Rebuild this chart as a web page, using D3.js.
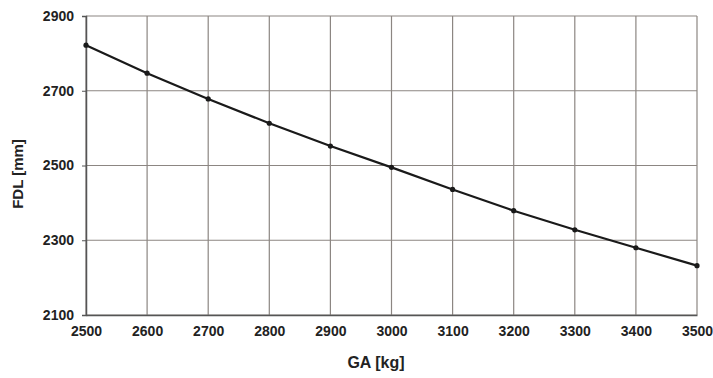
<!DOCTYPE html>
<html>
<head>
<meta charset="utf-8">
<script src="https://cdn.jsdelivr.net/npm/d3@7"></script>
<style>
  body { margin: 0; background: #fff; }
  text { font-family: "Liberation Sans", Arial, sans-serif; font-weight: bold; fill: #222; }
</style>
</head>
<body>
<script>
var gaValues = [2500, 2600, 2700, 2800, 2900, 3000, 3100, 3200, 3300, 3400, 3500];
var fdlValues = [2822, 2747, 2678, 2613, 2552, 2495, 2436, 2379, 2328, 2280, 2232];
var xTicks = [2500, 2600, 2700, 2800, 2900, 3000, 3100, 3200, 3300, 3400, 3500];
var yTicks = [2100, 2300, 2500, 2700, 2900];

var width = 713, height = 378;
var margin = {top: 16, right: 16, bottom: 63, left: 86};
var w = width - margin.left - margin.right;
var h = height - margin.top - margin.bottom;

var svg = d3.select("body").append("svg")
    .attr("width", width)
    .attr("height", height);

var g = svg.append("g")
    .attr("transform", "translate(" + margin.left + "," + margin.top + ")");

var x = d3.scaleLinear().domain([2500, 3500]).range([0, w]);
var y = d3.scaleLinear().domain([2100, 2900]).range([h, 0]);

// grid
g.selectAll(".vgrid").data(xTicks).enter().append("line")
    .attr("x1", d => x(d)).attr("x2", d => x(d))
    .attr("y1", 0).attr("y2", h)
    .attr("stroke", "#8c8682").attr("stroke-width", 1.2);
g.selectAll(".hgrid").data(yTicks).enter().append("line")
    .attr("x1", 0).attr("x2", w)
    .attr("y1", d => y(d)).attr("y2", d => y(d))
    .attr("stroke", "#8c8682").attr("stroke-width", 1.2);

// axes
var xAxis = g.append("g")
    .attr("transform", "translate(0," + h + ")")
    .call(d3.axisBottom(x).tickValues(xTicks).tickSize(0).tickPadding(11).tickFormat(d3.format("d")));
var yAxis = g.append("g")
    .call(d3.axisLeft(y).tickValues(yTicks).tickSize(4).tickPadding(8).tickFormat(d3.format("d")));
[xAxis, yAxis].forEach(function(a){
    a.select(".domain").attr("stroke", "#555").attr("stroke-width", 1.5);
    a.selectAll(".tick line").attr("stroke", "#555");
    a.selectAll("text").style("font-size", "14px").style("font-family", "Liberation Sans, Arial, sans-serif")
        .style("font-weight", "bold").attr("fill", "#222");
});

// data line
var pts = gaValues.map((d, i) => [d, fdlValues[i]]);
g.append("path")
    .datum(pts)
    .attr("fill", "none")
    .attr("stroke", "#1a1a1a")
    .attr("stroke-width", 2.2)
    .attr("d", d3.line().x(d => x(d[0])).y(d => y(d[1])));

g.selectAll(".pt").data(pts).enter().append("circle")
    .attr("cx", d => x(d[0])).attr("cy", d => y(d[1]))
    .attr("r", 2.6).attr("fill", "#1a1a1a");

// axis titles
svg.append("text")
    .attr("x", 376).attr("y", 368)
    .attr("text-anchor", "middle")
    .style("font-size", "16px")
    .text("GA [kg]");

svg.append("text")
    .attr("transform", "translate(23,174) rotate(-90)")
    .attr("text-anchor", "middle")
    .style("font-size", "15px")
    .text("FDL [mm]");
</script>
</body>
</html>
